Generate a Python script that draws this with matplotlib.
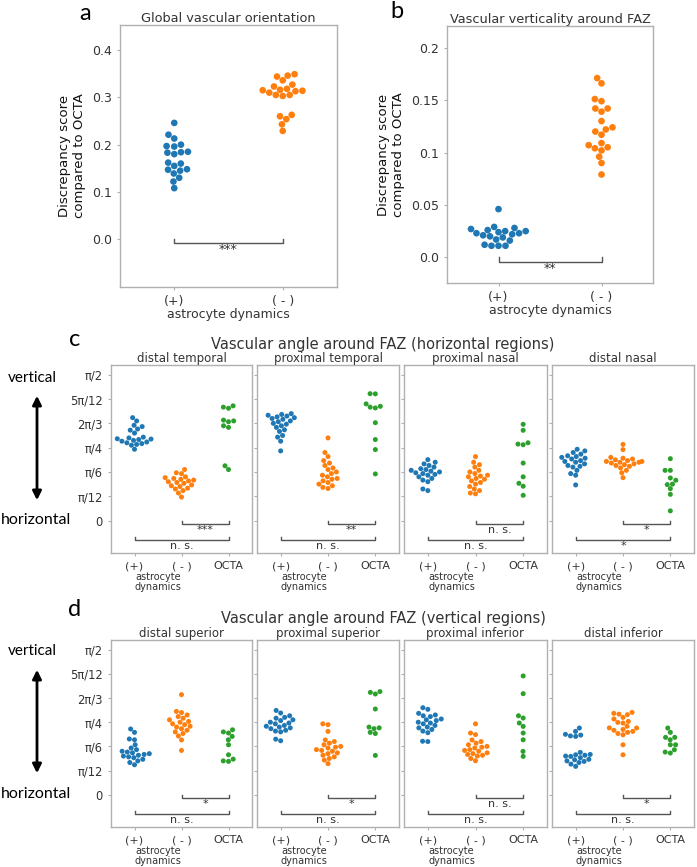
"""Swarm plots of vascular orientation discrepancy and angle around the FAZ."""

import matplotlib.pyplot as plt
import numpy as np
import pandas as pd
import seaborn as sns
from matplotlib.patches import FancyArrowPatch
from matplotlib.transforms import blended_transform_factory

W, H = 697, 867
BLUE, ORANGE, GREEN = "#1f77b4", "#ff7f0e", "#2ca02c"
TEXT = "#333333"
EDGE = "#b0b0b0"
LINE = "#555555"

# --- panel a: global vascular orientation (discrepancy vs OCTA)
a_pos = [0.246, 0.221, 0.213, 0.200, 0.197, 0.196, 0.185, 0.183, 0.184, 0.180,
         0.162, 0.160, 0.155, 0.148, 0.147, 0.145, 0.139, 0.130, 0.122, 0.108]
a_neg = [0.349, 0.346, 0.344, 0.336, 0.327, 0.323, 0.318, 0.316, 0.315, 0.314,
         0.313, 0.310, 0.305, 0.303, 0.305, 0.263, 0.260, 0.254, 0.243, 0.229]
a_sig = "***"

# --- panel b: vascular verticality around FAZ
b_pos = [0.046, 0.029, 0.028, 0.027, 0.026, 0.025, 0.025, 0.024, 0.023, 0.023,
         0.022, 0.021, 0.020, 0.019, 0.017, 0.016, 0.012, 0.011, 0.011, 0.011]
b_neg = [0.171, 0.166, 0.151, 0.149, 0.142, 0.142, 0.139, 0.130, 0.124, 0.122,
         0.120, 0.117, 0.109, 0.107, 0.105, 0.104, 0.102, 0.096, 0.090, 0.079]
b_sig = "**"

# --- panels c/d: vascular angle (degrees, 0 = horizontal, 90 = vertical)
angle_ticks = [0, 15, 30, 45, 60, 75, 90]
angle_labels = ["0", "π/12", "π/6", "π/4", "2π/3", "5π/12", "π/2"]
group_labels = ["(+)", "( - )", "OCTA"]

c_regions = ["distal temporal", "proximal temporal", "proximal nasal", "distal nasal"]
c_pos = [
    [63.5, 61.5, 58.8, 58.0, 56.5, 55.8, 54.0, 51.5, 51.0, 50.5,
     50.3, 50.0, 49.5, 49.0, 48.5, 48.0, 47.5, 47.0, 46.5, 44.0],
    [66.0, 65.5, 65.0, 64.5, 64.0, 63.5, 63.0, 62.5, 61.5, 61.0,
     60.0, 59.5, 58.5, 57.5, 56.0, 55.0, 52.5, 51.5, 49.0, 43.0],
    [37.6, 36.0, 35.0, 34.0, 33.0, 32.0, 31.5, 31.0, 30.5, 30.0,
     29.5, 29.0, 28.5, 28.0, 27.0, 26.0, 25.0, 24.0, 19.5, 18.5],
    [44.0, 43.0, 42.0, 41.0, 40.0, 39.5, 39.0, 38.5, 38.0, 37.0,
     36.5, 36.0, 35.0, 34.0, 33.5, 33.0, 31.0, 29.0, 28.0, 22.0],
]
c_neg = [
    [31.5, 29.5, 29.0, 27.0, 26.5, 26.0, 25.5, 25.0, 24.5, 24.0,
     23.5, 23.0, 22.0, 21.5, 21.0, 20.0, 19.5, 18.5, 17.0, 14.5],
    [51.0, 42.0, 39.5, 37.0, 35.5, 34.0, 32.5, 31.5, 30.0, 29.0,
     28.0, 27.0, 26.0, 25.5, 24.5, 23.5, 22.5, 21.5, 20.5, 19.8],
    [39.5, 36.0, 34.5, 33.0, 31.0, 30.0, 29.0, 28.0, 27.5, 27.0,
     26.0, 25.5, 24.5, 23.5, 22.5, 21.0, 19.5, 18.5, 17.0, 16.5],
    [47.0, 43.8, 39.0, 38.5, 38.0, 37.5, 37.0, 36.5, 36.5, 36.0,
     36.0, 35.5, 35.0, 34.5, 34.0, 33.5, 32.5, 31.0, 29.5, 26.5],
]
c_octa = [
    [70.8, 70.0, 69.3, 62.0, 61.5, 61.0, 58.5, 57.5, 33.8, 31.5],
    [78.3, 78.2, 72.0, 70.5, 70.0, 69.5, 60.4, 50.0, 43.8, 28.8],
    [59.4, 55.7, 48.0, 47.2, 46.8, 35.5, 27.0, 23.0, 21.2, 15.6],
    [38.2, 31.0, 31.0, 26.3, 24.9, 22.5, 22.2, 19.7, 16.2, 6.0],
]
c_sig_short = ["***", "**", "n. s.", "*"]
c_sig_long = ["n. s.", "n. s.", "n. s.", "*"]

d_regions = ["distal superior", "proximal superior", "proximal inferior", "distal inferior"]
d_pos = [
    [40.8, 38.7, 34.6, 34.1, 31.0, 29.0, 28.0, 27.0, 26.5, 26.0,
     25.5, 25.0, 24.5, 24.0, 23.5, 23.0, 22.0, 21.0, 20.0, 18.6],
    [52.3, 50.7, 49.0, 48.0, 47.5, 46.5, 46.0, 45.0, 44.5, 44.0,
     43.0, 42.5, 42.0, 41.5, 41.0, 40.0, 39.5, 39.0, 34.5, 33.5],
    [54.0, 53.0, 50.5, 49.5, 49.0, 48.5, 47.0, 46.5, 46.0, 45.0,
     44.5, 44.0, 43.0, 42.0, 41.5, 40.5, 39.5, 38.5, 33.2, 33.0],
    [41.4, 39.3, 37.5, 37.0, 36.5, 36.2, 26.3, 25.0, 24.8, 24.5,
     24.0, 23.8, 23.0, 22.0, 21.7, 21.0, 20.7, 20.0, 19.0, 17.6],
]
d_neg = [
    [62.1, 51.7, 51.0, 49.5, 48.5, 47.5, 46.5, 45.5, 45.0, 44.0,
     43.5, 42.5, 42.0, 41.0, 40.0, 39.0, 38.0, 36.5, 34.0, 27.5],
    [44.0, 43.5, 39.3, 34.0, 33.0, 32.0, 31.0, 30.0, 29.5, 29.0,
     28.0, 27.5, 27.0, 26.0, 25.5, 24.5, 23.5, 22.5, 21.5, 19.3],
    [44.0, 38.3, 37.3, 34.0, 33.0, 32.0, 31.0, 30.0, 29.5, 29.0,
     28.0, 27.5, 27.0, 26.0, 25.5, 25.0, 24.5, 24.0, 22.5, 21.1],
    [51.1, 50.5, 50.0, 49.7, 48.0, 47.0, 45.5, 44.9, 44.5, 42.5,
     41.5, 41.4, 40.5, 40.0, 39.3, 38.7, 38.0, 37.2, 31.0, 24.8],
]
d_octa = [
    [40.3, 39.0, 38.3, 36.2, 34.1, 31.0, 24.8, 22.1, 21.0, 20.7],
    [64.0, 63.5, 62.5, 53.2, 42.0, 41.5, 41.0, 38.7, 38.0, 24.4],
    [73.7, 62.7, 49.0, 47.6, 44.5, 42.4, 38.3, 34.1, 26.9, 23.8],
    [41.4, 38.7, 35.6, 35.6, 34.1, 31.0, 31.0, 27.9, 26.5, 25.9],
]
d_sig_short = ["*", "*", "n. s.", "*"]
d_sig_long = ["n. s.", "n. s.", "n. s.", "n. s."]


def px_box(x0, y0, x1, y1):
    return [x0 / W, 1 - y1 / H, (x1 - x0) / W, (y1 - y0) / H]


def style_axes(ax, labelsize):
    for spine in ax.spines.values():
        spine.set_color(EDGE)
        spine.set_linewidth(1.0)
    ax.tick_params(colors=EDGE, labelcolor=TEXT, labelsize=labelsize, length=2.5, width=0.8)


def swarm(ax, groups, colors, size):
    keys = [str(i) for i in range(len(groups))]
    df = pd.DataFrame({
        "g": np.repeat(keys, [len(g) for g in groups]),
        "v": np.concatenate(groups),
    })
    sns.swarmplot(data=df, x="g", y="v", hue="g", order=keys,
                  palette=dict(zip(keys, colors)), size=size, linewidth=0,
                  legend=False, ax=ax)
    ax.set_xlim(-0.5, len(groups) - 0.5)
    ax.set_xlabel("")
    ax.set_ylabel("")


def bracket(ax, x1, x2, y, h, text, fontsize):
    ax.plot([x1, x1, x2, x2], [y, y - h, y - h, y], color=LINE, lw=1)
    ax.text((x1 + x2) / 2, y - h * 1.1, text, ha="center", va="top",
            fontsize=fontsize, color=TEXT)


def two_group_panel(ax, pos, neg, ylim, ticks, ticklabels, title, sig, h):
    swarm(ax, [pos, neg], [BLUE, ORANGE], 4.8)
    ax.set_ylim(*ylim)
    ax.set_yticks(ticks, ticklabels)
    ax.set_xticks([0, 1], ["(+)", "( - )"])
    ax.set_xlabel("astrocyte dynamics", fontsize=9, color=TEXT, labelpad=0)
    ax.set_ylabel("Discrepancy score\ncompared to OCTA", fontsize=9.5, color="#111111")
    ax.set_title(title, fontsize=9.3, color=TEXT, pad=2)
    style_axes(ax, 9)
    bracket(ax, 0, 1, 0, h, sig, 9)


def angle_row(fig, top, bottom, regions, pos, neg, octa, sig_short, sig_long):
    lefts = [111, 257, 404, 552]
    rights = [252, 399, 547, 694]
    for i, region in enumerate(regions):
        ax = fig.add_axes(px_box(lefts[i], top, rights[i], bottom))
        swarm(ax, [pos[i], neg[i], octa[i]], [BLUE, ORANGE, GREEN], 3.6)
        ax.set_ylim(-20, 96)
        ax.set_yticks(angle_ticks, angle_labels)
        ax.set_xticks([0, 1, 2], group_labels)
        ax.set_title(region, fontsize=8.5, color=TEXT, pad=1.5)
        style_axes(ax, 8.3)
        ax.tick_params(axis="x", labelsize=8)
        if i > 0:
            ax.tick_params(labelleft=False)
        trans = blended_transform_factory(ax.transData, ax.transAxes)
        ax.text(0.5, -0.1, "astrocyte\ndynamics", transform=trans, ha="center",
                va="top", fontsize=7, color=TEXT, linespacing=1.05)
        bracket(ax, 1, 2, 0, 2.2, sig_short[i], 8)
        bracket(ax, 0, 2, -10, 2.2, sig_long[i], 8)


def side_labels(fig, y_vert, y_horiz, y_arrow_top, y_arrow_bottom):
    fig.text(32 / W, 1 - y_vert / H, "vertical", fontsize=11, family="Lato",
             ha="center", va="center")
    fig.text(36 / W, 1 - y_horiz / H, "horizontal", fontsize=11.5, family="Lato",
             ha="center", va="center")
    arrow = FancyArrowPatch((37 / W, 1 - y_arrow_top / H), (37 / W, 1 - y_arrow_bottom / H),
                            transform=fig.transFigure, arrowstyle="<|-|>",
                            mutation_scale=13, lw=2, color="black")
    fig.add_artist(arrow)


def main():
    fig = plt.figure(figsize=(W / 100, H / 100), dpi=100)

    ax_a = fig.add_axes(px_box(120, 25, 337, 287))
    two_group_panel(ax_a, a_pos, a_neg, (-0.101, 0.453), [0.0, 0.1, 0.2, 0.3, 0.4],
                    ["0.0", "0.1", "0.2", "0.3", "0.4"],
                    "Global vascular orientation", a_sig, 0.007)

    ax_b = fig.add_axes(px_box(447, 26, 653, 283))
    two_group_panel(ax_b, b_pos, b_neg, (-0.0245, 0.2207), [0.0, 0.05, 0.1, 0.15, 0.2],
                    ["0.0", "0.05", "0.1", "0.15", "0.2"],
                    "Vascular verticality around FAZ", b_sig, 0.004)

    angle_row(fig, 365, 553, c_regions, c_pos, c_neg, c_octa, c_sig_short, c_sig_long)
    angle_row(fig, 640, 827, d_regions, d_pos, d_neg, d_octa, d_sig_short, d_sig_long)

    fig.text(383 / W, 1 - 344 / H, "Vascular angle around FAZ (horizontal regions)",
             fontsize=10.5, color=TEXT, ha="center", va="center")
    fig.text(383 / W, 1 - 618 / H, "Vascular angle around FAZ (vertical regions)",
             fontsize=10.5, color=TEXT, ha="center", va="center")

    side_labels(fig, 378, 520, 393, 503)
    side_labels(fig, 651, 794, 667, 776)

    for letter, x, y in [("a", 85, 14), ("b", 397, 12), ("c", 75, 340), ("d", 75, 610)]:
        fig.text(x / W, 1 - y / H, letter, fontsize=17, family="Lato",
                 ha="center", va="center")

    fig.savefig("out.png", dpi=100)


if __name__ == "__main__":
    main()
